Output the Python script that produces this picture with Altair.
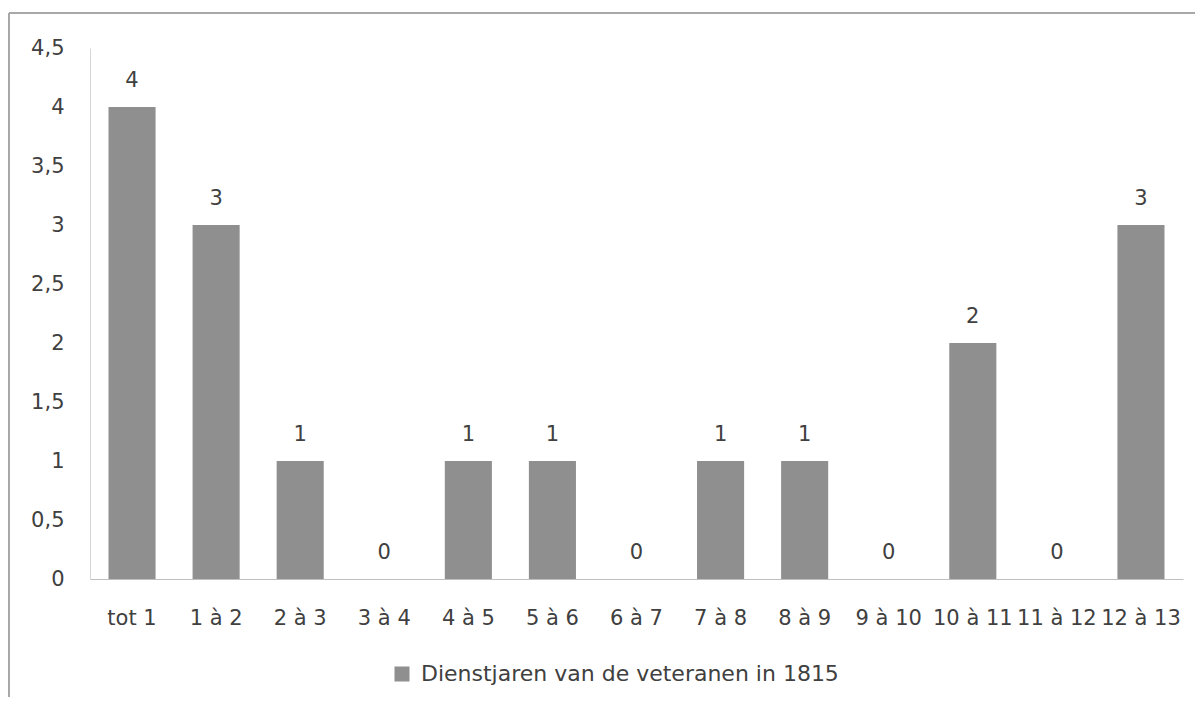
import altair as alt
import pandas as pd

categories = ["tot 1", "1 à 2", "2 à 3", "3 à 4", "4 à 5", "5 à 6", "6 à 7",
              "7 à 8", "8 à 9", "9 à 10", "10 à 11", "11 à 12", "12 à 13"]
values = [4, 3, 1, 0, 1, 1, 0, 1, 1, 0, 2, 0, 3]
series_name = "Dienstjaren van de veteranen in 1815"
y_ticks = [0, 0.5, 1, 1.5, 2, 2.5, 3, 3.5, 4, 4.5]

df = pd.DataFrame({"cat": categories, "val": values, "series": [series_name] * len(values)})

FONT = "DejaVu Sans"
TXT = "#404040"
FS = 21

x_enc = alt.X("cat:N", sort=categories, title=None,
              scale=alt.Scale(paddingInner=0.44, paddingOuter=0.22),
              axis=alt.Axis(labelAngle=0, ticks=False, labelPadding=28,
                            domainColor="#bfbfbf", domainWidth=1.2,
                            labelFont=FONT, labelFontSize=FS, labelColor=TXT,
                            labelOverlap=False, labelBound=False, labelLimit=0))
y_enc = alt.Y("val:Q", title=None,
              scale=alt.Scale(domain=[0, 4.5], nice=False),
              axis=alt.Axis(values=y_ticks, ticks=False, grid=False, labelPadding=26,
                            domainColor="#d6d6d6", domainWidth=1,
                            labelExpr="replace(toString(datum.value), '.', ',')",
                            labelFont=FONT, labelFontSize=FS, labelColor=TXT))

base = alt.Chart(df)

bars = base.mark_bar(color="#8f8f8f").encode(
    x=x_enc, y=y_enc,
    color=alt.Color("series:N", scale=alt.Scale(range=["#8f8f8f"]),
                    legend=alt.Legend(title=None, orient="none", legendX=301, legendY=615,
                                      symbolType="square", symbolSize=225,
                                      symbolStrokeWidth=0, labelOffset=8, labelLimit=0,
                                      labelFont=FONT, labelFontSize=22, labelColor=TXT)),
)

labels = base.mark_text(baseline="alphabetic", dy=-20, font=FONT, fontSize=FS, color=TXT).encode(
    x=alt.X("cat:N", sort=categories), y="val:Q", text="val:Q")

frame_top = base.mark_rule(color="#a8a8a8", strokeWidth=1.5).encode(
    x=alt.value(-81), x2=alt.value(1200), y=alt.value(-35))
frame_left = base.mark_rule(color="#a8a8a8", strokeWidth=1.5).encode(
    x=alt.value(-81), y=alt.value(-35), y2=alt.value(700))

chart = alt.layer(bars, labels, frame_top, frame_left).properties(
    width=1093, height=531,
    autosize=alt.AutoSizeParams(type="none"),
    padding={"left": 82, "top": 40, "right": 12, "bottom": 118},
).configure_view(stroke=None)

chart.save("out.html", embed_options={"renderer": "svg", "actions": False})
